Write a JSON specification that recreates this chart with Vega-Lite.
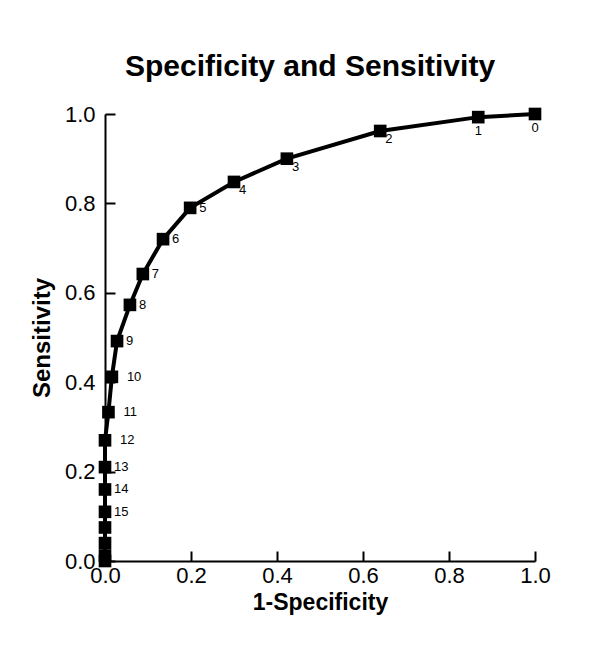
{
  "$schema": "https://vega.github.io/schema/vega-lite/v6.json",
  "width": 430,
  "height": 447,
  "autosize": {"type": "none"},
  "padding": {"left": 105, "top": 114, "right": 65, "bottom": 84},
  "background": "white",
  "config": {"view": {"stroke": null}, "font": "Liberation Sans"},
  "title": {"text": "Specificity and Sensitivity", "fontSize": 30, "fontWeight": "bold", "font": "Liberation Sans", "color": "black", "anchor": "middle", "baseline": "alphabetic", "offset": -3, "dx": -10},
  "data": {"values": [
    {"k": 0, "fpr": 1.0, "sens": 1.0, "label": "0"},
    {"k": 1, "fpr": 0.868, "sens": 0.993, "label": "1"},
    {"k": 2, "fpr": 0.64, "sens": 0.962, "label": "2"},
    {"k": 3, "fpr": 0.423, "sens": 0.9, "label": "3"},
    {"k": 4, "fpr": 0.3, "sens": 0.848, "label": "4"},
    {"k": 5, "fpr": 0.198, "sens": 0.79, "label": "5"},
    {"k": 6, "fpr": 0.135, "sens": 0.72, "label": "6"},
    {"k": 7, "fpr": 0.088, "sens": 0.642, "label": "7"},
    {"k": 8, "fpr": 0.058, "sens": 0.573, "label": "8"},
    {"k": 9, "fpr": 0.028, "sens": 0.492, "label": "9"},
    {"k": 10, "fpr": 0.016, "sens": 0.412, "label": "10"},
    {"k": 11, "fpr": 0.008, "sens": 0.333, "label": "11"},
    {"k": 12, "fpr": 0.0, "sens": 0.27, "label": "12"},
    {"k": 13, "fpr": 0.0, "sens": 0.21, "label": "13"},
    {"k": 14, "fpr": 0.0, "sens": 0.16, "label": "14"},
    {"k": 15, "fpr": 0.0, "sens": 0.11, "label": "15"},
    {"k": 16, "fpr": 0.0, "sens": 0.075, "label": ""},
    {"k": 17, "fpr": 0.0, "sens": 0.04, "label": ""},
    {"k": 18, "fpr": 0.0, "sens": 0.012, "label": ""},
    {"k": 19, "fpr": 0.0, "sens": 0.0, "label": ""}
  ]},
  "encoding": {
    "x": {"field": "fpr", "type": "quantitative", "scale": {"domain": [0, 1], "nice": false, "zero": false},
      "axis": {"title": "1-Specificity", "values": [0, 0.2, 0.4, 0.6, 0.8, 1.0], "format": ".1f", "grid": false,
        "domainColor": "black", "domainWidth": 2, "tickColor": "black", "tickWidth": 2, "tickSize": -10,
        "labelFont": "Liberation Sans", "labelFontSize": 22, "labelColor": "black", "labelPadding": 14, "labelFlush": false,
        "titleFont": "Liberation Sans", "titleFontSize": 23, "titleFontWeight": "bold", "titleColor": "black", "titlePadding": 5}},
    "y": {"field": "sens", "type": "quantitative", "scale": {"domain": [0, 1], "nice": false, "zero": false},
      "axis": {"title": "Sensitivity", "values": [0, 0.2, 0.4, 0.6, 0.8, 1.0], "format": ".1f", "grid": false,
        "domainColor": "black", "domainWidth": 2, "tickColor": "black", "tickWidth": 2, "tickSize": -10,
        "labelFont": "Liberation Sans", "labelFontSize": 22, "labelColor": "black", "labelPadding": 20, "labelFlush": false,
        "titleFont": "Liberation Sans", "titleFontSize": 24, "titleFontWeight": "bold", "titleColor": "black", "titlePadding": 10}}
  },
  "layer": [
    {"mark": {"type": "line", "color": "black", "strokeWidth": 4, "clip": false}, "encoding": {"order": {"field": "k", "type": "quantitative"}}},
    {"mark": {"type": "point", "shape": "square", "filled": true, "color": "black", "opacity": 1, "size": 160, "clip": false}},
    {"transform": [{"filter": "datum.k <= 1"}], "mark": {"type": "text", "align": "center", "baseline": "top", "dy": 8, "fontSize": 13, "color": "black"}, "encoding": {"text": {"field": "label"}}},
    {"transform": [{"filter": "datum.k >= 2 && datum.k <= 4"}], "mark": {"type": "text", "align": "left", "baseline": "middle", "dx": 5, "dy": 8, "fontSize": 13, "color": "black"}, "encoding": {"text": {"field": "label"}}},
    {"transform": [{"filter": "datum.k >= 5 && datum.k <= 9"}], "mark": {"type": "text", "align": "left", "baseline": "middle", "dx": 9, "fontSize": 13, "color": "black"}, "encoding": {"text": {"field": "label"}}},
    {"transform": [{"filter": "datum.k >= 10 && datum.k <= 12"}], "mark": {"type": "text", "align": "left", "baseline": "middle", "dx": 15, "fontSize": 13, "color": "black"}, "encoding": {"text": {"field": "label"}}},
    {"transform": [{"filter": "datum.k >= 13 && datum.k <= 15"}], "mark": {"type": "text", "align": "left", "baseline": "middle", "dx": 9, "fontSize": 13, "color": "black"}, "encoding": {"text": {"field": "label"}}}
  ]
}
